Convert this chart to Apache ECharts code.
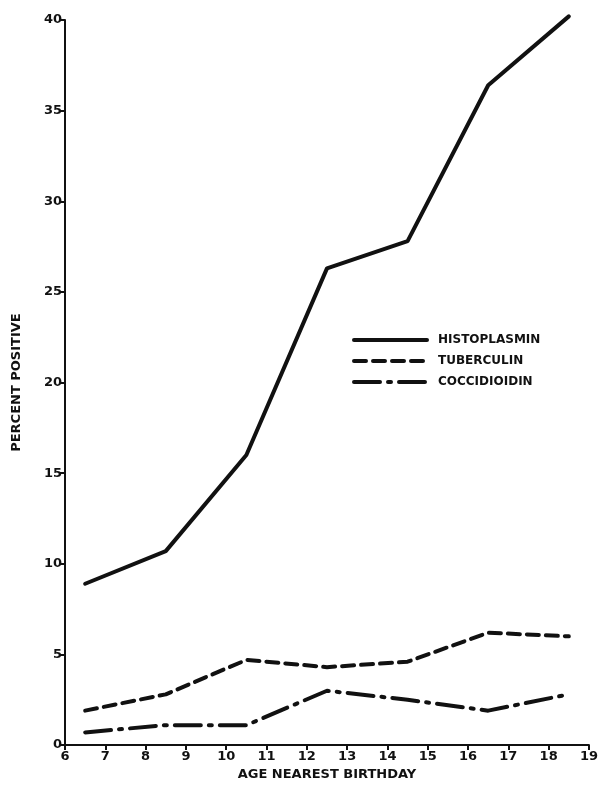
<!DOCTYPE html>
<html>
<head>
<meta charset="utf-8">
<script src="https://cdn.jsdelivr.net/npm/echarts@6/dist/echarts.min.js"></script>
<style>
  html, body { margin: 0; padding: 0; background: #fff; }
  #chart { width: 601px; height: 786px; }
</style>
</head>
<body>
<div id="chart"></div>
<script>
// ages (midpoints of each two-year group)
var ages = [6.5, 8.5, 10.5, 12.5, 14.5, 16.5, 18.5];
var histoplasmin = [8.9, 10.7, 16.0, 26.3, 27.8, 36.4, 40.2];
var tuberculin = [1.9, 2.8, 4.7, 4.3, 4.6, 6.2, 6.0];
var coccidioidin = [0.7, 1.1, 1.1, 3.0, 2.5, 1.9, 2.8];
var seriesNames = ['HISTOPLASMIN', 'TUBERCULIN', 'COCCIDIOIDIN'];

var ink = '#111';
var font = 'DejaVu Sans';

function pairs(vals) {
    return ages.map(function (a, i) { return [a, vals[i]]; });
}

function lineSeries(name, vals, dash) {
    return {
        type: 'line',
        name: name,
        data: pairs(vals),
        symbol: 'none',
        clip: false,
        animation: false,
        lineStyle: {
            color: ink,
            width: 4,
            type: dash,
            cap: 'round',
            join: 'round'
        },
        itemStyle: { color: ink }
    };
}

var chart = echarts.init(document.getElementById('chart'));
chart.setOption({
    backgroundColor: '#fff',
    animation: false,
    grid: { left: 65, right: 9, top: 20, bottom: 35 },
    legend: {
        data: seriesNames,
        orient: 'vertical',
        left: 347,
        top: 329,
        itemWidth: 73,
        itemHeight: 14,
        itemGap: 9,
        itemStyle: { opacity: 0 },
        lineStyle: { width: 4, color: ink },
        textStyle: { color: ink, fontFamily: font, fontWeight: 'bold', fontSize: 12, padding: [0, 0, 0, 6] }
    },
    xAxis: {
        type: 'value',
        min: 6,
        max: 19,
        interval: 1,
        name: 'AGE NEAREST BIRTHDAY',
        nameLocation: 'middle',
        nameGap: 15,
        nameTextStyle: { color: ink, fontFamily: font, fontWeight: 'bold', fontSize: 13 },
        axisLine: { lineStyle: { color: ink, width: 2 } },
        axisTick: { show: true, length: 5, lineStyle: { color: ink, width: 2 } },
        axisLabel: { color: ink, fontFamily: font, fontWeight: 'bold', fontSize: 13, margin: 5 },
        splitLine: { show: false }
    },
    yAxis: {
        type: 'value',
        min: 0,
        max: 40,
        interval: 5,
        name: 'PERCENT POSITIVE',
        nameLocation: 'middle',
        nameGap: 42,
        nameTextStyle: { color: ink, fontFamily: font, fontWeight: 'bold', fontSize: 13 },
        axisLine: { show: true, lineStyle: { color: ink, width: 2 } },
        axisTick: { show: true, length: 5, lineStyle: { color: ink, width: 2 } },
        axisLabel: { color: ink, fontFamily: font, fontWeight: 'bold', fontSize: 13, margin: 3 },
        splitLine: { show: false }
    },
    series: [
        lineSeries(seriesNames[0], histoplasmin, 'solid'),
        lineSeries(seriesNames[1], tuberculin, [12, 7]),
        lineSeries(seriesNames[2], coccidioidin, [26, 8, 3, 8])
    ]
});
</script>
</body>
</html>
